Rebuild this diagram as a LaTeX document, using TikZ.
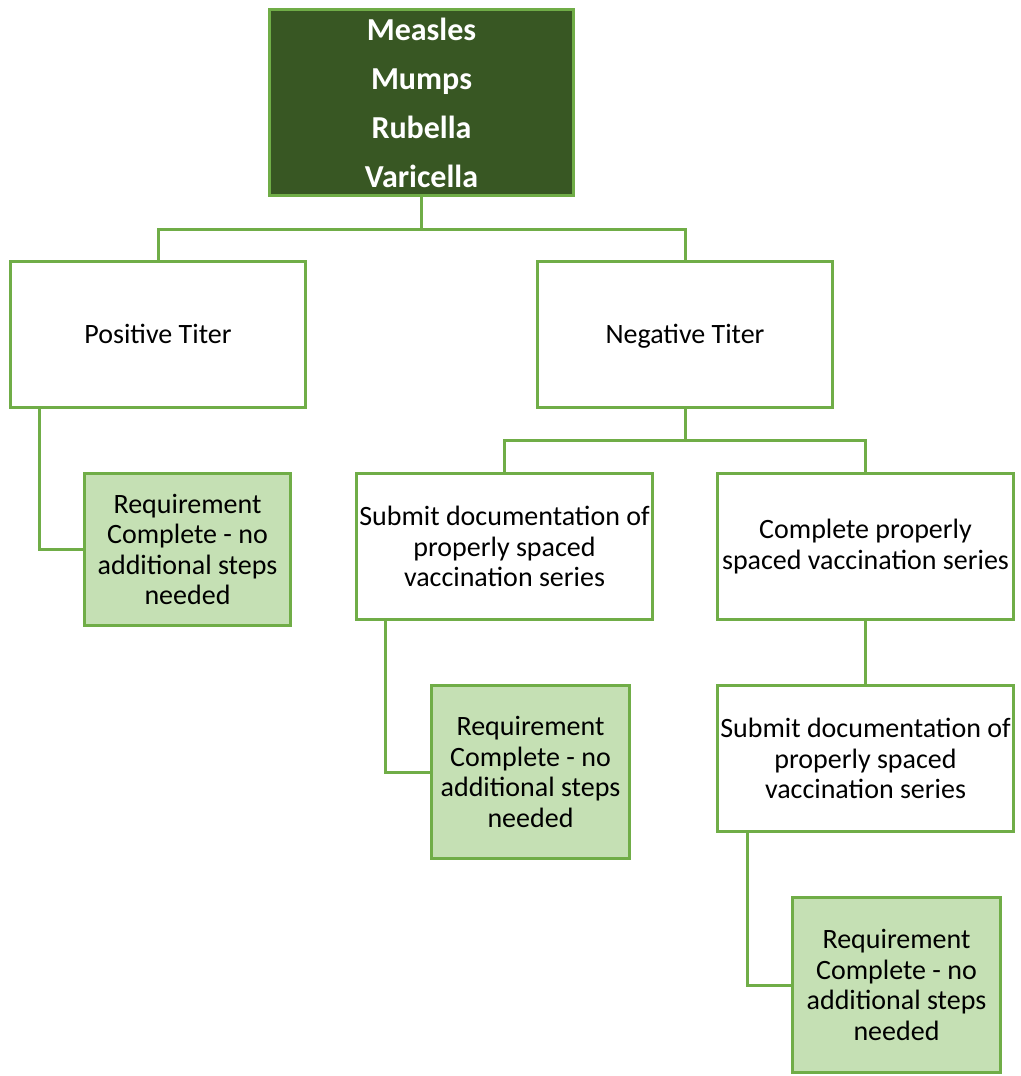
\documentclass[tikz,border=0pt]{standalone}
\usepackage{fontspec}
\setmainfont{Carlito}
\definecolor{edgegreen}{HTML}{70AD47}
\definecolor{darkgreen}{HTML}{385723}
\definecolor{lightgreen}{HTML}{C5E0B4}
\begin{document}
\begin{tikzpicture}[x=1pt,y=-1pt,
  box/.style={draw=edgegreen,line width=3pt,inner sep=0pt,align=center,
    font=\fontsize{28}{30.5}\selectfont},
  plainbox/.style={box,fill=white},
  titerbox/.style={plainbox,text height=22pt,text depth=4pt},
  donebox/.style={box,fill=lightgreen},
  headbox/.style={box,fill=darkgreen,text=white,
    font=\fontsize{32}{49}\selectfont\bfseries},
  link/.style={draw=edgegreen,line width=3pt}]
\useasboundingbox (0,0) rectangle (1020,1076);

% vaccine header
\node[headbox,minimum width=304pt,minimum height=186pt] (top) at (421.5,102.5)
  {Measles\\Mumps\\Rubella\\Varicella};

% titer results
\node[titerbox,minimum width=295pt,minimum height=146pt] (pos) at (158,334.5) {Positive Titer};
\node[titerbox,minimum width=295pt,minimum height=146pt] (neg) at (685,334.5) {Negative Titer};

% positive branch
\node[donebox,minimum width=206pt,minimum height=152pt] (g1) at (187.5,549.5)
  {Requirement\\Complete - no\\additional steps\\needed};

% negative branch
\node[plainbox,minimum width=296pt,minimum height=146pt] (sub1) at (504.5,546.5)
  {Submit documentation of\\properly spaced\\vaccination series};
\node[plainbox,minimum width=296pt,minimum height=146pt] (comp) at (865.5,546.5)
  {Complete properly\\spaced vaccination series};
\node[donebox,minimum width=198pt,minimum height=173pt] (g2) at (530.5,772)
  {Requirement\\Complete - no\\additional steps\\needed};
\node[plainbox,minimum width=296pt,minimum height=146pt] (sub2) at (865.5,758.5)
  {Submit documentation of\\properly spaced\\vaccination series};
\node[donebox,minimum width=208pt,minimum height=175pt] (g3) at (896.5,985)
  {Requirement\\Complete - no\\additional steps\\needed};

% connectors
\draw[link] (top.south) -- ++(0,32) -| (pos.north);
\draw[link] (top.south) -- ++(0,32) -| (neg.north);
\draw[link] ([xshift=30pt]pos.south west) |- (g1.west);
\draw[link] (neg.south) -- ++(0,31) -| (sub1.north);
\draw[link] (neg.south) -- ++(0,31) -| (comp.north);
\draw[link] ([xshift=30pt]sub1.south west) |- (g2.west);
\draw[link] (comp.south) -- (sub2.north);
\draw[link] ([xshift=31pt]sub2.south west) |- (g3.west);
\end{tikzpicture}
\end{document}
